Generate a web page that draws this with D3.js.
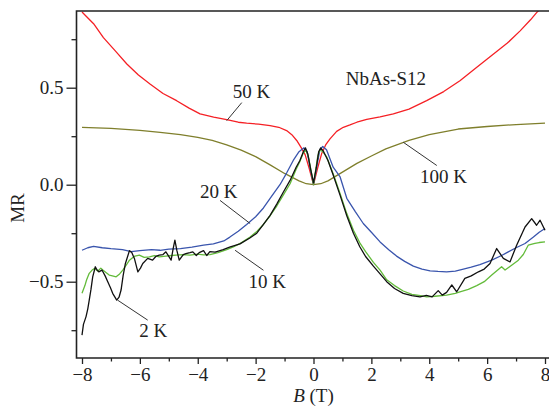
<!DOCTYPE html>
<html>
<head>
<meta charset="utf-8">
<script src="https://cdn.jsdelivr.net/npm/d3@7"></script>
<style>
  body { margin: 0; background: #fff; }
  svg { display: block; font-family: "Liberation Serif", "Times New Roman", serif; }
</style>
</head>
<body>
<svg id="chart" width="549" height="411"></svg>
<script>
// MR vs B, NbAs-S12 as [B (T), MR]
var k50 = [[-8.0,0.89],[-7.6,0.83],[-7.26,0.758],[-6.85,0.69],[-6.45,0.622],[-6.05,0.565],[-5.65,0.519],
  [-5.2,0.47],[-4.73,0.433],[-4.3,0.395],[-3.92,0.365],[-3.45,0.348],[-3.0,0.335],[-2.6,0.322],[-2.31,0.317],
  [-1.9,0.312],[-1.5,0.305],[-1.2,0.296],[-0.93,0.279],[-0.75,0.258],[-0.58,0.228],[-0.42,0.19],[-0.29,0.155],
  [-0.15,0.085],[0,0.0],[0.15,0.09],[0.28,0.159],[0.42,0.205],[0.57,0.236],[0.8,0.275],[1.03,0.296],[1.26,0.308],
  [1.5,0.322],[1.84,0.337],[2.3,0.35],[2.76,0.365],[3.3,0.39],[3.91,0.433],[4.5,0.48],[5.06,0.536],[5.6,0.6],
  [6.21,0.673],[6.7,0.73],[7.14,0.793],[7.5,0.85],[7.71,0.887],[8.0,0.93]];

var k100 = [[-8,0.296],[-7,0.29],[-6,0.28],[-5.3,0.27],[-4.6,0.258],[-4,0.244],[-3.5,0.228],[-3,0.205],
  [-2.5,0.178],[-2,0.145],[-1.5,0.102],[-1,0.058],[-0.5,0.02],[-0.25,0.005],[0,0],[0.25,0.005],[0.5,0.02],
  [1,0.065],[1.5,0.11],[2,0.148],[2.5,0.185],[3.3,0.228],[4,0.258],[5,0.287],[6,0.3],[7,0.31],[8,0.317]];

var k20 = [[-8,-0.338],[-7.8,-0.325],[-7.6,-0.318],[-7.3,-0.325],[-7,-0.33],[-6.6,-0.335],[-6.3,-0.345],
  [-6,-0.34],[-5.6,-0.335],[-5.3,-0.338],[-5,-0.332],[-4.6,-0.33],[-4.2,-0.322],[-3.8,-0.312],[-3.46,-0.305],
  [-3.1,-0.29],[-2.89,-0.27],[-2.6,-0.24],[-2.31,-0.205],[-2.0,-0.165],[-1.73,-0.12],[-1.45,-0.06],[-1.16,0.0],
  [-0.93,0.06],[-0.7,0.125],[-0.5,0.17],[-0.33,0.19],[-0.22,0.17],[-0.12,0.09],[0,0],[0.12,0.1],[0.22,0.18],
  [0.32,0.197],[0.45,0.18],[0.68,0.09],[0.92,0.04],[1.15,-0.07],[1.45,-0.14],[1.72,-0.2],[2.0,-0.245],
  [2.3,-0.295],[2.6,-0.335],[2.87,-0.368],[3.15,-0.395],[3.45,-0.42],[3.75,-0.435],[4.03,-0.444],[4.3,-0.447],
  [4.6,-0.449],[4.9,-0.445],[5.18,-0.435],[5.45,-0.425],[5.75,-0.412],[6.16,-0.389],[6.5,-0.365],[6.73,-0.346],
  [7.0,-0.325],[7.31,-0.303],[7.6,-0.27],[7.8,-0.245],[8.0,-0.226]];

var k10 = [[-8.0,-0.56],[-7.9,-0.52],[-7.84,-0.49],[-7.75,-0.457],[-7.65,-0.44],[-7.57,-0.432],[-7.45,-0.445],
  [-7.35,-0.43],[-7.28,-0.44],[-7.15,-0.455],[-7.06,-0.466],[-6.95,-0.47],[-6.82,-0.475],[-6.7,-0.46],
  [-6.59,-0.44],[-6.45,-0.41],[-6.36,-0.389],[-6.2,-0.37],[-6.02,-0.363],[-5.85,-0.375],[-5.67,-0.372],
  [-5.5,-0.365],[-5.33,-0.372],[-5.1,-0.368],[-4.9,-0.365],[-4.75,-0.363],[-4.5,-0.36],[-4.27,-0.363],
  [-4.0,-0.358],[-3.8,-0.362],[-3.58,-0.36],[-3.3,-0.35],[-3.0,-0.335],[-2.77,-0.321],[-2.5,-0.3],
  [-2.19,-0.27],[-1.95,-0.24],[-1.73,-0.205],[-1.5,-0.16],[-1.27,-0.11],[-1.05,-0.055],[-0.81,0.005],
  [-0.6,0.08],[-0.47,0.12],[-0.35,0.165],[-0.26,0.178],[-0.17,0.14],[-0.08,0.07],[0,0.0],[0.08,0.08],
  [0.15,0.15],[0.22,0.18],[0.32,0.17],[0.46,0.142],[0.68,0.057],[0.92,-0.046],[1.15,-0.149],[1.38,-0.235],
  [1.6,-0.3],[1.8,-0.345],[2.07,-0.4],[2.3,-0.44],[2.53,-0.49],[2.8,-0.52],[3.1,-0.548],[3.4,-0.565],
  [3.7,-0.572],[3.91,-0.578],[4.2,-0.575],[4.6,-0.569],[4.9,-0.56],[5.06,-0.552],[5.35,-0.54],[5.64,-0.52],
  [5.9,-0.5],[6.16,-0.466],[6.5,-0.423],[6.62,-0.44],[6.8,-0.42],[7.08,-0.389],[7.25,-0.36],[7.42,-0.312],
  [7.65,-0.303],[7.8,-0.298],[8.0,-0.295]];

var k2 = [[-8.0,-0.775],[-7.95,-0.72],[-7.86,-0.68],[-7.8,-0.64],[-7.75,-0.595],[-7.69,-0.54],[-7.63,-0.475],
  [-7.54,-0.423],[-7.48,-0.44],[-7.42,-0.449],[-7.31,-0.44],[-7.2,-0.47],[-7.11,-0.5],[-7.02,-0.53],
  [-6.94,-0.56],[-6.8,-0.595],[-6.72,-0.58],[-6.65,-0.543],[-6.58,-0.47],[-6.5,-0.406],[-6.36,-0.34],
  [-6.28,-0.35],[-6.19,-0.38],[-6.07,-0.449],[-5.98,-0.43],[-5.9,-0.406],[-5.73,-0.38],[-5.56,-0.389],
  [-5.45,-0.37],[-5.33,-0.363],[-5.2,-0.36],[-5.1,-0.346],[-4.92,-0.389],[-4.85,-0.33],[-4.79,-0.286],
  [-4.72,-0.34],[-4.64,-0.389],[-4.5,-0.36],[-4.41,-0.355],[-4.27,-0.35],[-4.17,-0.346],[-4.05,-0.365],
  [-3.95,-0.35],[-3.8,-0.34],[-3.69,-0.365],[-3.58,-0.345],[-3.4,-0.348],[-3.12,-0.335],[-2.9,-0.322],
  [-2.54,-0.305],[-2.2,-0.275],[-1.96,-0.25],[-1.73,-0.205],[-1.5,-0.158],[-1.27,-0.1],[-1.05,-0.04],
  [-0.81,0.022],[-0.6,0.09],[-0.47,0.125],[-0.35,0.17],[-0.28,0.19],[-0.2,0.16],[-0.1,0.08],[0,0.01],
  [0.1,0.09],[0.18,0.17],[0.25,0.19],[0.35,0.17],[0.5,0.125],[0.68,0.05],[0.92,-0.055],[1.15,-0.16],
  [1.38,-0.25],[1.6,-0.32],[1.8,-0.37],[2.07,-0.42],[2.3,-0.46],[2.53,-0.5],[2.8,-0.535],[3.1,-0.56],
  [3.4,-0.572],[3.68,-0.578],[3.9,-0.57],[4.1,-0.578],[4.31,-0.546],[4.45,-0.569],[4.6,-0.555],[4.78,-0.517],
  [4.95,-0.552],[5.23,-0.483],[5.45,-0.47],[5.7,-0.449],[5.9,-0.435],[6.1,-0.406],[6.33,-0.329],[6.56,-0.38],
  [6.79,-0.398],[7.02,-0.312],[7.31,-0.218],[7.54,-0.175],[7.71,-0.209],[7.83,-0.183],[8.0,-0.235]];

var xMajor = [-8,-6,-4,-2,0,2,4,6,8];
var xMinor = [-7,-5,-3,-1,1,3,5,7];
var yMajor = [-0.5,0,0.5];
var yMinor = [-0.75,-0.25,0.25,0.75];

var series = [
  {name:"100 K", pts:k100, color:"#7f7f2c"},
  {name:"50 K", pts:k50, color:"#f52025"},
  {name:"20 K", pts:k20, color:"#3a55ad"},
  {name:"10 K", pts:k10, color:"#63bb3a"},
  {name:"2 K", pts:k2, color:"#111111"}
];

var svg = d3.select("#chart");
var plotL = 76.5, plotT = 11, plotR = 549, plotB = 358;

var x = d3.scaleLinear().domain([-8,8]).range([82,545]);
var y = d3.scaleLinear().domain([-0.5,0.5]).range([281.7,87.7]);

svg.append("clipPath").attr("id","clip")
  .append("rect").attr("x",plotL).attr("y",plotT).attr("width",plotR-plotL).attr("height",plotB-plotT);

var line = d3.line()
  .x(function(d){ return x(d[0]); })
  .y(function(d){ return y(d[1]); });

svg.append("g").attr("clip-path","url(#clip)")
  .selectAll("path")
  .data(series)
  .enter()
  .append("path")
  .attr("d",function(d){ return line(d.pts); })
  .attr("fill","none")
  .attr("stroke",function(d){ return d.color; })
  .attr("stroke-width",1.3)
  .attr("stroke-linejoin","round");

// axes
svg.append("g").attr("transform","translate(0,"+plotB+")")
  .call(d3.axisBottom(x).tickValues(xMajor).tickSizeInner(6).tickSizeOuter(0).tickPadding(4));
svg.append("g").attr("transform","translate(0,"+plotB+")")
  .call(d3.axisBottom(x).tickValues(xMinor).tickSizeInner(3.5).tickSizeOuter(0).tickFormat(""));
svg.append("g").attr("transform","translate("+plotL+",0)")
  .call(d3.axisLeft(y).tickValues(yMajor).tickSizeInner(10).tickSizeOuter(0).tickPadding(3)
    .tickFormat(d3.format(".1f")));
svg.append("g").attr("transform","translate("+plotL+",0)")
  .call(d3.axisLeft(y).tickValues(yMinor).tickSizeInner(5).tickSizeOuter(0).tickFormat(""));

svg.selectAll(".domain").remove();
svg.selectAll(".tick line").attr("stroke","#222").attr("stroke-width",1.3);
svg.selectAll(".tick text").attr("font-size",19).attr("fill","#222")
  .style("font-family","'Liberation Serif', 'Times New Roman', serif");

// frame: left, top, bottom
svg.append("path")
  .attr("d","M"+plotR+","+plotT+"H"+plotL+"V"+plotB+"H"+plotR)
  .attr("fill","none").attr("stroke","#222").attr("stroke-width",1.6);

// axis titles
var xt = svg.append("text").attr("x",x(0)).attr("y",402).attr("text-anchor","middle")
  .attr("font-size",19).attr("fill","#222");
xt.append("tspan").attr("font-style","italic").text("B");
xt.append("tspan").text(" (T)");

svg.append("text").attr("transform","translate(24,208) rotate(-90)")
  .attr("text-anchor","middle").attr("font-size",19).attr("fill","#222").text("MR");

// annotations (data units)
var notes = [
  {t:"50 K", tx:-2.14, ty:0.449, anchor:"middle", l:[-2.48,0.423,-3.0,0.33]},
  {t:"100 K", tx:3.68, ty:0.007, anchor:"start", l:[3.1,0.219,4.26,0.099]},
  {t:"20 K", tx:-3.92, ty:-0.07, anchor:"start", l:[-3.23,-0.081,-2.19,-0.2]},
  {t:"10 K", tx:-2.25, ty:-0.533, anchor:"start", l:[-2.71,-0.338,-1.73,-0.441]},
  {t:"2 K", tx:-6.02, ty:-0.783, anchor:"start", l:[-6.77,-0.595,-5.73,-0.698]}
];

notes.forEach(function(n){
  svg.append("line")
    .attr("x1",x(n.l[0])).attr("y1",y(n.l[1]))
    .attr("x2",x(n.l[2])).attr("y2",y(n.l[3]))
    .attr("stroke","#333").attr("stroke-width",1);
  svg.append("text").attr("x",x(n.tx)).attr("y",y(n.ty))
    .attr("text-anchor",n.anchor).attr("font-size",19).attr("fill","#222").text(n.t);
});

svg.append("text").attr("x",x(2.5)).attr("y",y(0.515))
  .attr("text-anchor","middle").attr("font-size",19).attr("fill","#222").text("NbAs-S12");
</script>
</body>
</html>
